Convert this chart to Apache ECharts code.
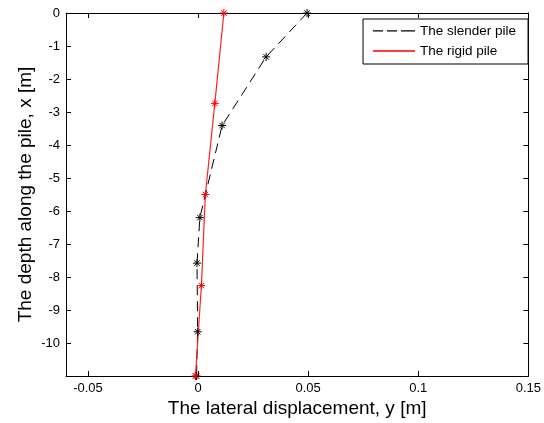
<!DOCTYPE html>
<html><head><meta charset="utf-8">
<script src="https://cdn.jsdelivr.net/npm/echarts@6/dist/echarts.min.js"></script>
<style>html,body{margin:0;padding:0;background:#fff;}#c{width:544px;height:423px;}</style>
</head><body><div id="c"></div>
<script>
var slenderX = [0.0495, 0.0309, 0.0109, 0.0008, -0.0005, -0.0002, -0.0007];
var slenderDepth = [0, -1.33, -3.41, -6.2, -7.58, -9.66, -11];
var rigidX = [0.0117, 0.0076, 0.0033, 0.0015, -0.0012];
var rigidDepth = [0, -2.74, -5.5, -8.26, -11];
var xTicks = [-0.05, 0, 0.05, 0.1, 0.15];
var yTicks = [0, -1, -2, -3, -4, -5, -6, -7, -8, -9, -10, -11];
var yLabels = [0, -1, -2, -3, -4, -5, -6, -7, -8, -9, -10];

function pairs(xs, ys){ return xs.map(function(v,i){ return [v, ys[i]]; }); }
var star = 'path://M5,0L5,10M0,5L10,5M1.6,1.6L8.4,8.4M1.6,8.4L8.4,1.6';
var font = 'Liberation Sans, Arial, sans-serif';
var chart = echarts.init(document.getElementById('c'));
var xBase = {type:'value', min:-0.06, max:0.15, splitLine:{show:false},
  axisLine:{onZero:false, lineStyle:{color:'#000', width:1}}};
var yBase = {type:'value', min:-11, max:0, splitLine:{show:false},
  axisLine:{onZero:false, lineStyle:{color:'#000', width:1}}};
chart.setOption({
  animation:false,
  backgroundColor:'#fff',
  grid:{left:66, right:15, top:13, bottom:46, containLabel:false},
  xAxis:[
    Object.assign({}, xBase, {position:'bottom',
      name:'The lateral displacement, y [m]', nameLocation:'middle', nameGap:23, nameMoveOverlap:false,
      nameTextStyle:{fontFamily:font, fontSize:19, color:'#000'},
      axisTick:{inside:true, length:5, customValues:xTicks, lineStyle:{color:'#000'}},
      axisLabel:{customValues:xTicks, fontFamily:font, fontSize:13, color:'#000', margin:6}}),
    Object.assign({}, xBase, {position:'top',
      axisTick:{inside:true, length:5, customValues:xTicks, lineStyle:{color:'#000'}},
      axisLabel:{show:false}})
  ],
  yAxis:[
    Object.assign({}, yBase, {position:'left', interval:1,
      name:'The depth along the pile, x [m]', nameLocation:'middle', nameGap:31, nameMoveOverlap:false,
      nameTextStyle:{fontFamily:font, fontSize:19, color:'#000'},
      axisTick:{inside:true, length:5, customValues:yTicks, lineStyle:{color:'#000'}},
      axisLabel:{customValues:yLabels, fontFamily:font, fontSize:13, color:'#000', margin:6}}),
    Object.assign({}, yBase, {position:'right', interval:1,
      axisTick:{inside:true, length:5, customValues:yTicks, lineStyle:{color:'#000'}},
      axisLabel:{show:false}})
  ],
  legend:{
    orient:'vertical', left:363, top:19,
    backgroundColor:'#fff', borderColor:'#000', borderWidth:1,
    padding:[5,12,6,10], itemGap:6, itemWidth:42, itemHeight:14, itemTextGap:4,
    textStyle:{fontFamily:font, fontSize:13.5, color:'#000'},
    itemStyle:{borderWidth:0},
    data:[
      {name:'The slender pile', icon:'path://M0,6.3h10v1.3h-10zM14,6.3h10v1.3h-10zM28,6.3h14v1.3h-14zM0,0h0.01v14h-0.01zM41.99,0h0.01v14h-0.01z'},
      {name:'The rigid pile', icon:'path://M0,6.3h42v1.4h-42zM0,0h0.01v14h-0.01zM41.99,0h0.01v14h-0.01z'}
    ]
  },
  series:[
    {name:'The slender pile', type:'line', data:pairs(slenderX, slenderDepth),
      symbol:star, symbolSize:8, showAllSymbol:true,
      lineStyle:{color:'#000', width:1, type:[10,6]},
      itemStyle:{color:'#000', borderColor:'#000', borderWidth:1}},
    {name:'The rigid pile', type:'line', data:pairs(rigidX, rigidDepth),
      symbol:star, symbolSize:8, showAllSymbol:true,
      lineStyle:{color:'#ff2020', width:1.2},
      itemStyle:{color:'#ff0000', borderColor:'#ff0000', borderWidth:1}}
  ]
});
</script></body></html>
